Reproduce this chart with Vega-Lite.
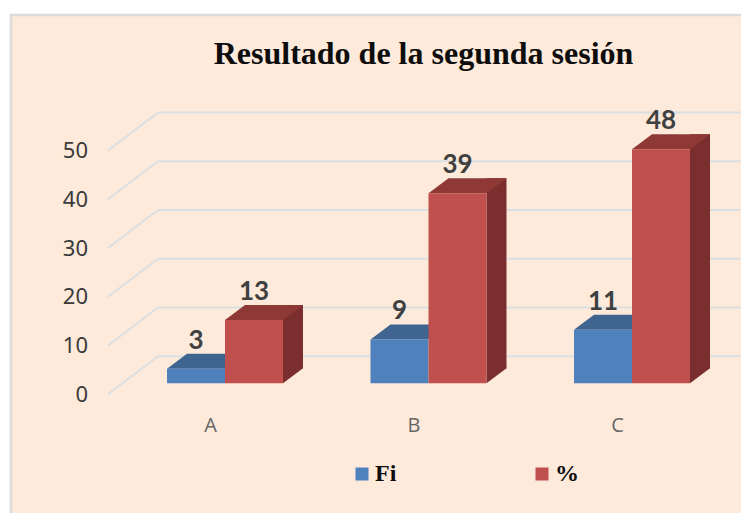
{
"$schema":"https://vega.github.io/schema/vega-lite/v6.json",
"width":733,"height":501,
"autosize":{"type":"none"},
"padding":{"left":11,"top":15,"right":0,"bottom":0},
"background":"#ffffff",
"view":{"fill":"#fdeadb","stroke":"#dcdcdc","strokeWidth":2.7},
"title":{"text":"Resultado de la segunda sesión","font":"Liberation Serif","fontSize":32,"fontWeight":"bold","color":"#0d0d0d","anchor":"middle","dx":46,"offset":-81,"baseline":"alphabetic"},
"datasets":{
"bars":[
{"cat":"A","series":"Fi","value":3},{"cat":"A","series":"%","value":13},
{"cat":"B","series":"Fi","value":9},{"cat":"B","series":"%","value":39},
{"cat":"C","series":"Fi","value":11},{"cat":"C","series":"%","value":48}],
"grid":[{"v":0},{"v":10},{"v":20},{"v":30},{"v":40},{"v":50}]
},
"data":{"name":"bars"},
"encoding":{
"x":{"field":"cat","type":"nominal","scale":{"domain":["A","B","C"],"range":[112.25,722.75],"paddingInner":0.43,"paddingOuter":0.215},
"axis":{"title":null,"domain":false,"ticks":false,"labelAngle":0,"labelOffset":-14.5,"labelPadding":0,"labelBaseline":"top","offset":-101,"labelFont":"Open Sans","labelFontSize":20,"labelColor":"#666666","grid":false}},
"y":{"field":"value","type":"quantitative","scale":{"domain":[0,50],"range":[368.3,124.5],"nice":false},
"axis":{"title":null,"domain":false,"ticks":false,"grid":false,"values":[0,10,20,30,40,50],"labelOffset":11,"labelPadding":0,"offset":-76.5,"labelFont":"Noto Sans","labelFontSize":22,"labelColor":"#3a3a3a"}}
},
"layer":[
{"data":{"name":"grid"},"mark":{"type":"rule","color":"#dcdfe2","strokeWidth":2,"xOffset":-67,"x2Offset":109,"yOffset":-27,"y2Offset":-27},
 "encoding":{"x":{"datum":"A","type":"nominal"},"x2":{"datum":"C"},"y":{"field":"v","type":"quantitative"},"y2":{"field":"v"}}},
{"data":{"name":"grid"},"mark":{"type":"rule","color":"#dcdfe2","strokeWidth":2,"xOffset":-117,"x2Offset":-67,"yOffset":11,"y2Offset":-27},
 "encoding":{"x":{"datum":"A","type":"nominal"},"x2":{"datum":"A"},"y":{"field":"v","type":"quantitative"},"y2":{"field":"v"}}},
{"transform":[{"filter":"datum.series==='Fi'"}],
 "mark":{"type":"point","shape":"M-29,0L29,0L49,-15L-9,-15Z","size":4,"filled":true,"opacity":1,"color":"#3f648f"},
 "encoding":{"xOffset":{"field":"series","scale":{"domain":["Fi","%"],"paddingInner":0,"paddingOuter":0}}}},
{"transform":[{"filter":"datum.series==='%'"}],
 "mark":{"type":"bar","width":20,"xOffset":68,"yOffset":-15,"y2Offset":-15,"color":"#7a2f2e"},
 "encoding":{"y2":{"datum":0}}},
{"transform":[{"filter":"datum.series==='%'"}],
 "mark":{"type":"point","shape":"M29,0L29,-16L49,-16L49,-15Z","size":4,"filled":true,"opacity":1,"color":"#7a2f2e"},
 "encoding":{"y":{"datum":0,"type":"quantitative"},"xOffset":{"field":"series","scale":{"domain":["Fi","%"],"paddingInner":0,"paddingOuter":0}}}},
{"transform":[{"filter":"datum.series==='%'"}],
 "mark":{"type":"point","shape":"M-29,0L29,0L49,-15L-9,-15Z","size":4,"filled":true,"opacity":1,"color":"#8f3937"},
 "encoding":{"xOffset":{"field":"series","scale":{"domain":["Fi","%"],"paddingInner":0,"paddingOuter":0}}}},
{"mark":{"type":"bar"},
 "encoding":{"xOffset":{"field":"series","scale":{"domain":["Fi","%"],"paddingInner":0,"paddingOuter":0}},
  "color":{"field":"series","type":"nominal","scale":{"domain":["Fi","%"],"range":["#4f81bd","#c0504d"]},
   "legend":{"title":null,"orient":"none","legendX":339,"legendY":447,"direction":"horizontal","columns":2,"columnPadding":133,"symbolType":"square","symbolSize":169,"symbolStrokeWidth":0,"labelFont":"Liberation Serif","labelFontSize":24,"labelFontWeight":"bold","labelColor":"#0d0d0d","labelOffset":1}}}},
{"mark":{"type":"text","dy":-20,"baseline":"alphabetic","font":"Lato","fontSize":26,"fontWeight":"bold","color":"#404040"},
 "encoding":{"xOffset":{"field":"series","scale":{"domain":["Fi","%"],"paddingInner":0,"paddingOuter":0}},"text":{"field":"value","type":"quantitative"}}}
]
}
